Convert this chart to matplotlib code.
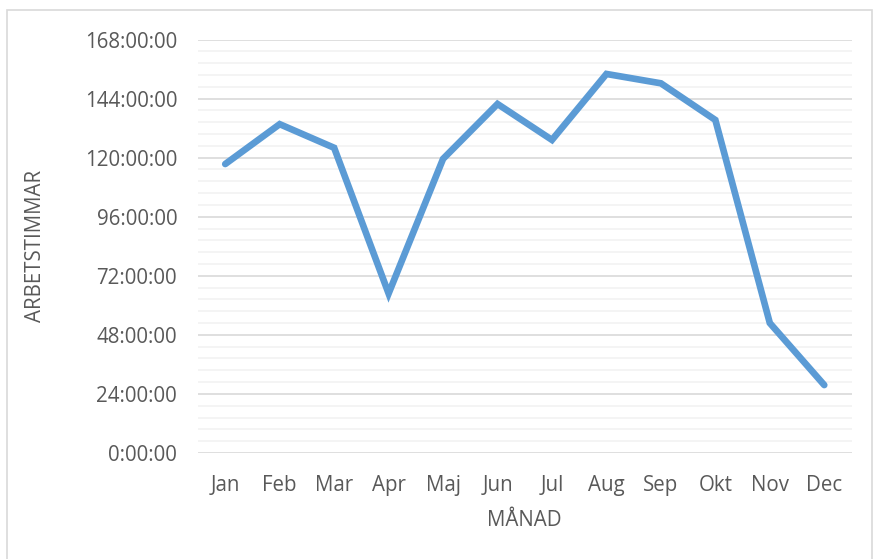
import matplotlib
matplotlib.use("Agg")
import matplotlib.pyplot as plt
from matplotlib.ticker import FixedLocator, FuncFormatter, MultipleLocator
from matplotlib.patches import Rectangle

months = ["Jan", "Feb", "Mar", "Apr", "Maj", "Jun", "Jul", "Aug", "Sep", "Okt", "Nov", "Dec"]
hours = [117.4, 133.6, 124.0, 64.8, 119.5, 141.8, 127.2, 154.0, 150.2, 135.3, 52.8, 27.6]
y_ticks = [0, 24, 48, 72, 96, 120, 144, 168]

W, H = 873, 559
plt.rcParams['font.family'] = ['Open Sans', 'DejaVu Sans']
fig = plt.figure(figsize=(W / 100, H / 100), dpi=100)

# chart area border
fig.patches.append(Rectangle((7 / W, -0.01), (872 - 7) / W, (H - 10) / H + 0.01,
                             transform=fig.transFigure, fill=False,
                             edgecolor="#D9D9D9", linewidth=1.2))

left, right, top, bottom = 198, 851.5, 39.5, 453
ax = fig.add_axes([left / W, (H - bottom) / H, (right - left) / W, (bottom - top) / H])

x = list(range(len(months)))
ax.plot(x, hours, color="#5B9BD5", linewidth=4.8, solid_joinstyle="miter",
        solid_capstyle="round", zorder=3)

ax.set_xlim(-0.5, len(months) - 0.5)
ax.set_ylim(0, 168)
ax.yaxis.set_major_locator(FixedLocator(y_ticks))
ax.yaxis.set_minor_locator(MultipleLocator(4.8))
ax.yaxis.set_major_formatter(FuncFormatter(lambda v, p: f"{int(round(v))}:00:00"))
ax.set_xticks(x)
ax.set_xticklabels(months)

ax.grid(axis="y", which="major", color="#D9D9D9", linewidth=1.2, zorder=0)
ax.grid(axis="y", which="minor", color="#F2F2F2", linewidth=1.2, zorder=0)
for s in ax.spines.values():
    s.set_visible(False)
ax.tick_params(axis="both", which="both", length=0, colors="#595959", labelsize=14.8)
ax.tick_params(axis="y", pad=15)
ax.tick_params(axis="x", pad=16)

ax.set_ylabel("ARBETSTIMMAR", color="#595959", fontsize=14.8, labelpad=28)
ax.set_xlabel("MÅNAD", color="#595959", fontsize=14.8, labelpad=10)

fig.savefig("out.png", dpi=100)
